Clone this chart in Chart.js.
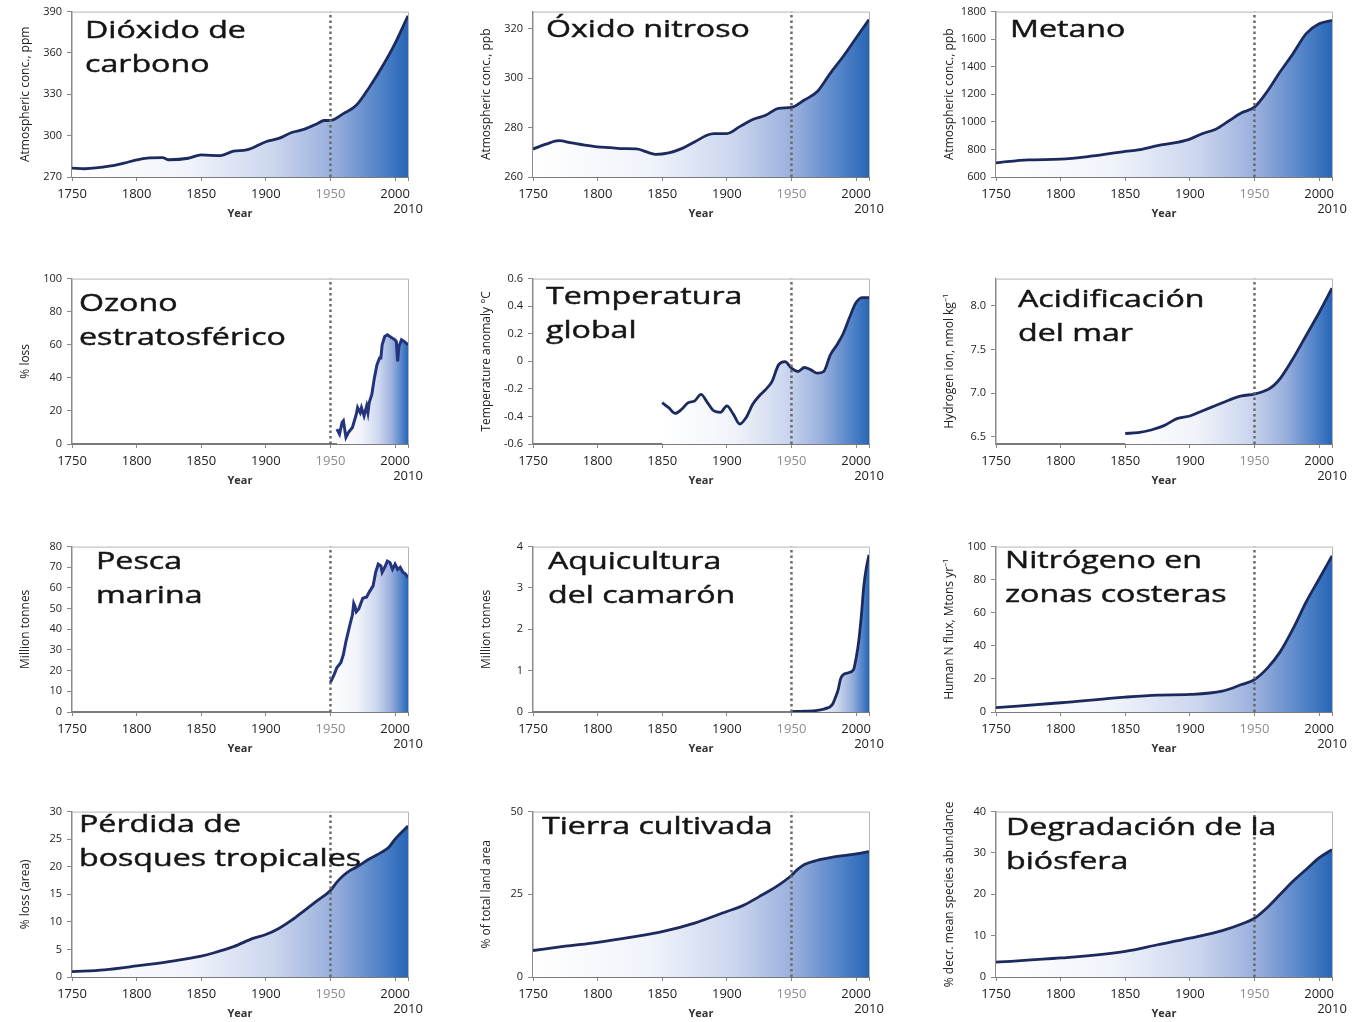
<!DOCTYPE html>
<html lang="es">
<head>
<meta charset="utf-8">
<title>La gran aceleración</title>
<script src="https://cdn.jsdelivr.net/npm/chart.js@4.4.1/dist/chart.umd.min.js"></script>
<style>
  html, body { margin: 0; padding: 0; background: #fff; }
  body { width: 1353px; height: 1022px; position: relative; overflow: hidden; font-family: 'Open Sans', sans-serif; }
  .panel { position: absolute; width: 438px; height: 222px; }
  .panel canvas { position: absolute; left: 0; top: 0; }
  .titulo { position: absolute; font-size: 24px; line-height: 34px; color: #151515; -webkit-text-stroke: 0.45px #151515; transform: scaleX(1.34); transform-origin: 0 0; white-space: nowrap; pointer-events: none; }
</style>
</head>
<body>
<script>
// Eje X común
const xTicks = [1750, 1800, 1850, 1900, 1950, 2000, 2010];
const markerYear = 1950;

// Dióxido de carbono (ppm)
const co2Years = [1750, 1760, 1780, 1790, 1800, 1810, 1820, 1825, 1840, 1850, 1865, 1875, 1885, 1900, 1910, 1920, 1930, 1940, 1945, 1950, 1960, 1970, 1980, 1990, 2000, 2010];
const co2Values = [276.5, 276, 278, 280, 282.4, 283.9, 284, 282.5, 283.6, 286, 285.5, 288.7, 289.6, 295.6, 298, 302.3, 304.7, 308.8, 311, 311, 316, 322, 335, 350, 367, 387];
const co2Ticks = [270, 300, 330, 360, 390];

// Óxido nitroso (ppb)
const n2oYears = [1750, 1760, 1770, 1780, 1790, 1800, 1810, 1820, 1830, 1840, 1845, 1855, 1865, 1875, 1885, 1890, 1900, 1910, 1920, 1930, 1940, 1950, 1960, 1970, 1980, 1990, 2000, 2010];
const n2oValues = [271.3, 273.3, 274.7, 273.8, 272.9, 272.2, 271.9, 271.5, 271.4, 269.8, 269.2, 269.8, 271.5, 274.2, 277, 277.6, 277.6, 280.4, 283.3, 285, 287.8, 288.2, 291.2, 294.6, 302, 308.8, 316.3, 323.8];
const n2oTicks = [260, 280, 300, 320];

// Metano (ppb)
const ch4Years = [1750, 1775, 1800, 1825, 1850, 1860, 1875, 1890, 1900, 1910, 1920, 1930, 1940, 1950, 1960, 1970, 1980, 1990, 2000, 2010];
const ch4Values = [703, 724, 729, 753, 786, 796, 827, 851, 875, 916, 947, 1006, 1066, 1107, 1222, 1365, 1497, 1640, 1712, 1736];
const ch4Ticks = [600, 800, 1000, 1200, 1400, 1600, 1800];

// Ozono estratosférico (% pérdida)
const ozoneYears = [1955, 1957, 1959, 1960, 1962, 1964, 1967, 1970, 1971, 1973, 1974, 1976, 1978, 1979, 1980, 1982, 1984, 1986, 1988, 1989, 1990, 1992, 1994, 1996, 1998, 2000, 2001, 2002, 2003, 2005, 2007, 2010];
const ozoneValues = [9, 6, 13, 14, 4, 7, 10, 18, 22, 19, 22, 17, 23, 19, 25, 30, 40, 48, 52, 52, 60, 65, 66, 65, 64, 63, 62, 50, 59, 63, 62, 60];
const ozoneTicks = [0, 20, 40, 60, 80, 100];

// Temperatura global (anomalía °C)
const tempYears = [1850, 1855, 1860, 1865, 1870, 1875, 1880, 1885, 1890, 1895, 1900, 1905, 1910, 1915, 1920, 1925, 1930, 1935, 1940, 1945, 1950, 1955, 1960, 1965, 1970, 1975, 1980, 1985, 1990, 1995, 2000, 2005, 2010];
const tempValues = [-0.3, -0.336, -0.378, -0.348, -0.3, -0.288, -0.24, -0.3, -0.36, -0.37, -0.324, -0.383, -0.455, -0.407, -0.312, -0.252, -0.205, -0.145, -0.026, -0.002, -0.05, -0.074, -0.045, -0.062, -0.086, -0.074, 0.045, 0.117, 0.2, 0.319, 0.426, 0.462, 0.462];
const tempTicks = [-0.6, -0.4, -0.2, 0, 0.2, 0.4, 0.6];

// Acidificación del mar (nmol/kg)
const acidYears = [1850, 1860, 1870, 1880, 1890, 1900, 1910, 1920, 1930, 1940, 1950, 1960, 1965, 1970, 1980, 1990, 2000, 2010];
const acidValues = [6.54, 6.55, 6.58, 6.63, 6.71, 6.74, 6.8, 6.86, 6.92, 6.97, 6.99, 7.04, 7.09, 7.17, 7.4, 7.66, 7.92, 8.2];
const acidTicks = [6.5, 7.0, 7.5, 8.0];

// Pesca marina (millones de toneladas)
const fishYears = [1950, 1953, 1955, 1958, 1960, 1962, 1965, 1967, 1968, 1969, 1970, 1972, 1975, 1978, 1980, 1983, 1985, 1987, 1989, 1990, 1992, 1994, 1996, 1998, 2000, 2002, 2004, 2006, 2008, 2010];
const fishValues = [14.3, 18.3, 21.5, 23.8, 27.8, 34.2, 42, 47, 52.5, 51, 48.5, 50, 55, 55.6, 58, 61, 67.6, 71.5, 70.7, 67.6, 70, 73, 72.3, 69, 71.5, 69, 70, 67.6, 66.8, 65];
const fishTicks = [0, 10, 20, 30, 40, 50, 60, 70, 80];

// Aquicultura del camarón (millones de toneladas)
const shrimpYears = [1950, 1960, 1970, 1975, 1978, 1980, 1982, 1984, 1986, 1988, 1990, 1994, 1998, 2000, 2002, 2004, 2006, 2008, 2010];
const shrimpValues = [0.01, 0.02, 0.04, 0.07, 0.1, 0.13, 0.2, 0.35, 0.52, 0.8, 0.9, 0.95, 1.02, 1.3, 1.7, 2.3, 3.05, 3.5, 3.8];
const shrimpTicks = [0, 1, 2, 3, 4];

// Nitrógeno en zonas costeras (Mton/año)
const nitroYears = [1750, 1800, 1850, 1875, 1900, 1925, 1940, 1950, 1960, 1970, 1980, 1990, 2000, 2010];
const nitroValues = [2.6, 5.6, 9, 10.2, 10.6, 12.6, 16.6, 19.6, 26.5, 36.5, 50.5, 66.5, 80.4, 94.4];
const nitroTicks = [0, 20, 40, 60, 80, 100];

// Pérdida de bosques tropicales (% área)
const forestYears = [1750, 1775, 1800, 1825, 1850, 1860, 1875, 1890, 1900, 1910, 1920, 1930, 1940, 1950, 1955, 1960, 1965, 1970, 1980, 1990, 1995, 2000, 2010];
const forestValues = [0.96, 1.3, 2.0, 2.8, 3.8, 4.4, 5.5, 7.0, 7.7, 8.8, 10.3, 12.1, 13.9, 15.7, 17.2, 18.4, 19.3, 19.9, 21.4, 22.7, 23.5, 25, 27.4];
const forestTicks = [0, 5, 10, 15, 20, 25, 30];

// Tierra cultivada (% superficie)
const cropYears = [1750, 1775, 1800, 1825, 1850, 1875, 1900, 1912, 1925, 1937, 1950, 1955, 1960, 1970, 1980, 1990, 2000, 2010];
const cropValues = [8, 9.3, 10.5, 12, 13.7, 16.3, 19.8, 21.5, 24.3, 27, 30.7, 32.6, 34, 35.3, 36.1, 36.7, 37.2, 37.9];
const cropTicks = [0, 25, 50];

// Degradación de la biósfera (% abundancia)
const bioYears = [1750, 1800, 1850, 1875, 1900, 1925, 1940, 1950, 1960, 1970, 1980, 1990, 2000, 2010];
const bioValues = [3.6, 4.6, 6.2, 7.8, 9.4, 11.2, 12.8, 14.2, 16.8, 20, 23.2, 26, 28.8, 30.8];
const bioTicks = [0, 10, 20, 30, 40];

// Paneles (orden: filas de izquierda a derecha)
const panels = [
    { title: ['Dióxido de', 'carbono'], yTitle: 'Atmospheric conc., ppm', years: co2Years, values: co2Values, yMin: 270, yMax: 390, yTicks: co2Ticks, dec: 0, smooth: true },
    { title: ['Óxido nitroso'], yTitle: 'Atmospheric conc., ppb', years: n2oYears, values: n2oValues, yMin: 260, yMax: 327, yTicks: n2oTicks, dec: 0, smooth: true },
    { title: ['Metano'], yTitle: 'Atmospheric conc., ppb', years: ch4Years, values: ch4Values, yMin: 600, yMax: 1800, yTicks: ch4Ticks, dec: 0, smooth: true },
    { title: ['Ozono', 'estratosférico'], yTitle: '% loss', years: ozoneYears, values: ozoneValues, yMin: 0, yMax: 100, yTicks: ozoneTicks, dec: 0, smooth: false },
    { title: ['Temperatura', 'global'], yTitle: 'Temperature anomaly °C', years: tempYears, values: tempValues, yMin: -0.6, yMax: 0.6, yTicks: tempTicks, dec: 1, smooth: true },
    { title: ['Acidificación', 'del mar'], yTitle: 'Hydrogen ion, nmol kg⁻¹', years: acidYears, values: acidValues, yMin: 6.42, yMax: 8.31, yTicks: acidTicks, dec: 1, smooth: true },
    { title: ['Pesca', 'marina'], yTitle: 'Million tonnes', years: fishYears, values: fishValues, yMin: 0, yMax: 80, yTicks: fishTicks, dec: 0, smooth: false },
    { title: ['Aquicultura', 'del camarón'], yTitle: 'Million tonnes', years: shrimpYears, values: shrimpValues, yMin: 0, yMax: 4, yTicks: shrimpTicks, dec: 0, smooth: true },
    { title: ['Nitrógeno en', 'zonas costeras'], yTitle: 'Human N flux, Mtons yr⁻¹', years: nitroYears, values: nitroValues, yMin: 0, yMax: 100, yTicks: nitroTicks, dec: 0, smooth: true },
    { title: ['Pérdida de', 'bosques tropicales'], yTitle: '% loss (area)', years: forestYears, values: forestValues, yMin: 0, yMax: 30, yTicks: forestTicks, dec: 0, smooth: true },
    { title: ['Tierra cultivada'], yTitle: '% of total land area', years: cropYears, values: cropValues, yMin: 0, yMax: 50, yTicks: cropTicks, dec: 0, smooth: true },
    { title: ['Degradación de la', 'biósfera'], yTitle: '% decr. mean species abundance', years: bioYears, values: bioValues, yMin: 0, yMax: 40, yTicks: bioTicks, dec: 0, smooth: true }
];

// Posición de cada panel y de su título
const colLeft = [0, 461, 924];
const rowTop = [0, 267, 535, 800];
const titlePos = [[13, 3], [13, 2], [14, 2], [7, 9], [13, 2], [22, 5], [24, -1], [15, -1], [9, -2], [7, -3], [9, -1], [10, 0]];

// Degradado blanco -> azul
const gradStops = [[0, '#ffffff'], [0.35, '#f0f3fa'], [0.6, '#cbd6ee'], [0.78, '#97aedc'], [0.92, '#4f82c8'], [1, '#2766b6']];

Chart.defaults.font.family = "'Open Sans', sans-serif";

function gradient(context, startYear) {
    const chart = context.chart;
    const area = chart.chartArea;
    if (!area) return 'rgba(0,0,0,0)';
    const x0 = chart.scales.x.getPixelForValue(startYear);
    const g = chart.ctx.createLinearGradient(x0, 0, area.right, 0);
    for (let i = 0; i < gradStops.length; i++) {
        g.addColorStop(gradStops[i][0], gradStops[i][1]);
    }
    return g;
}

// Marco superior y derecho
const framePlugin = {
    id: 'frame',
    beforeDatasetsDraw(chart) {
        const a = chart.chartArea;
        const ctx = chart.ctx;
        ctx.save();
        ctx.strokeStyle = '#b5b5b5';
        ctx.lineWidth = 1;
        ctx.beginPath();
        ctx.moveTo(a.left, a.top + 0.5);
        ctx.lineTo(a.right + 0.5, a.top + 0.5);
        ctx.lineTo(a.right + 0.5, a.bottom);
        ctx.stroke();
        ctx.restore();
    }
};

function formatTick(v, dec) {
    if (v === 0) return '0';
    return dec ? v.toFixed(dec) : String(v);
}

function buildPanel(p, i) {
    const col = i % 3;
    const row = Math.floor(i / 3);

    const div = document.createElement('div');
    div.className = 'panel';
    div.style.left = colLeft[col] + 'px';
    div.style.top = rowTop[row] + 'px';

    const canvas = document.createElement('canvas');
    canvas.width = 438;
    canvas.height = 222;
    div.appendChild(canvas);

    const t = document.createElement('div');
    t.className = 'titulo';
    t.innerHTML = p.title.join('<br>');
    t.style.left = (72 + titlePos[i][0]) + 'px';
    t.style.top = (9 + titlePos[i][1]) + 'px';
    div.appendChild(t);
    document.body.appendChild(div);

    const points = [];
    for (let k = 0; k < p.years.length; k++) {
        points.push({ x: p.years[k], y: p.values[k] });
    }

    new Chart(canvas, {
        type: 'line',
        data: {
            datasets: [
                {
                    data: points,
                    borderColor: p.smooth ? '#1d2a5e' : '#23347c',
                    borderWidth: p.smooth ? 2.8 : 3,
                    pointRadius: 0,
                    fill: 'start',
                    backgroundColor: ctx => gradient(ctx, p.years[0]),
                    cubicInterpolationMode: p.smooth ? 'monotone' : 'default',
                    tension: 0,
                    order: 2
                },
                {
                    data: [{ x: markerYear, y: p.yMin }, { x: markerYear, y: p.yMax }],
                    borderColor: '#6a6a6a',
                    borderWidth: 2.5,
                    borderDash: [2.5, 3],
                    pointRadius: 0,
                    fill: false,
                    order: 1
                }
            ]
        },
        options: {
            responsive: false,
            animation: false,
            events: [],
            layout: { padding: { left: 0, right: 30, top: 9, bottom: 2 } },
            plugins: { legend: { display: false }, tooltip: { enabled: false } },
            scales: {
                x: {
                    type: 'linear',
                    min: 1750,
                    max: 2010,
                    afterBuildTicks: s => { s.ticks = xTicks.map(v => ({ value: v })); },
                    afterFit: s => { s.height = 43; },
                    border: { color: '#7a7a7a', width: 2 },
                    grid: { drawOnChartArea: false, drawTicks: true, tickLength: 4, color: '#888' },
                    ticks: {
                        autoSkip: false,
                        maxRotation: 0,
                        padding: 5,
                        font: { size: 13 },
                        color: c => (c.tick && c.tick.value === markerYear) ? '#8c8c8c' : '#222',
                        callback: v => v === 2010 ? ['', '2010'] : String(v)
                    },
                    title: { display: true, text: 'Year', font: { size: 11, weight: 'bold' }, color: '#333', padding: 0 }
                },
                y: {
                    type: 'linear',
                    min: p.yMin,
                    max: p.yMax,
                    afterBuildTicks: s => { s.ticks = p.yTicks.map(v => ({ value: v })); },
                    afterFit: s => { s.width = 72; },
                    border: { color: '#8a8a8a', width: 1.5 },
                    grid: { drawOnChartArea: false, drawTicks: true, tickLength: 5, color: '#888' },
                    ticks: {
                        padding: 5,
                        font: { size: 11 },
                        color: '#222',
                        callback: v => formatTick(v, p.dec)
                    },
                    title: { display: true, text: p.yTitle, font: { size: 12 }, color: '#222', padding: { top: 18, bottom: 0 } }
                }
            }
        },
        plugins: [framePlugin]
    });
}

for (let i = 0; i < panels.length; i++) {
    buildPanel(panels[i], i);
}
</script>
</body>
</html>
